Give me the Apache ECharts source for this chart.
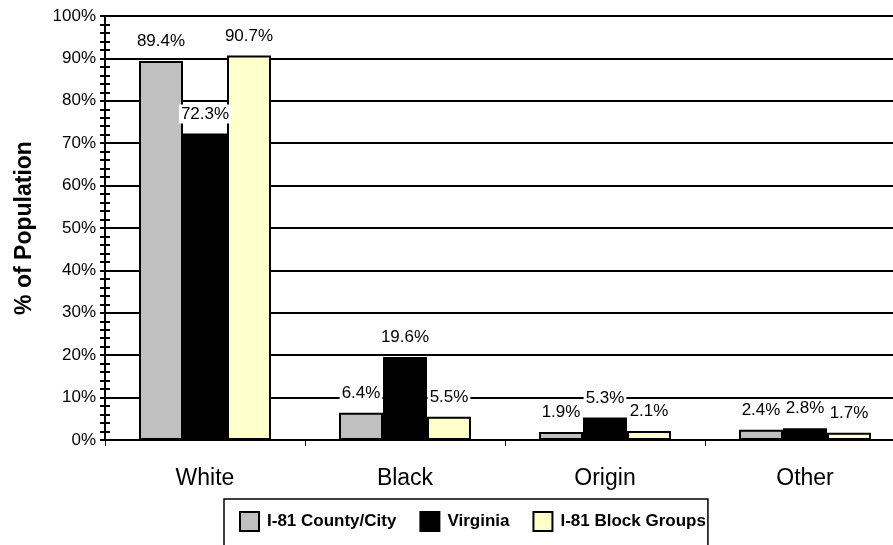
<!DOCTYPE html>
<html>
<head>
<meta charset="utf-8">
<script src="https://cdn.jsdelivr.net/npm/echarts@6/dist/echarts.min.js"></script>
<style>
  html, body { margin: 0; padding: 0; background: #fff; }
  #main { width: 893px; height: 545px; }
</style>
</head>
<body>
<div id="main"></div>
<script>
// 类别和数据
var categories = ['White', 'Black', 'Origin', 'Other'];
var seriesNames = ['I-81 County/City', 'Virginia', 'I-81 Block Groups'];
var countyCity = [89.4, 6.4, 1.9, 2.4];
var virginia = [72.3, 19.6, 5.3, 2.8];
var blockGroups = [90.7, 5.5, 2.1, 1.7];
var colors = ['#c0c0c0', '#000000', '#ffffcc'];

var chart = echarts.init(document.getElementById('main'), null, { renderer: 'canvas' });

function makeSeries(name, data, color) {
  return {
    name: name,
    type: 'bar',
    data: data,
    barGap: 0,
    barCategoryGap: '34%',
    itemStyle: { color: color, borderColor: '#000', borderWidth: 2 },
    label: {
      show: true,
      position: 'top',
      distance: 10,
      formatter: function (p) { return p.value.toFixed(1) + '%'; },
      fontFamily: 'Liberation Sans',
      fontSize: 17,
      color: '#000',
      backgroundColor: '#fff',
      padding: [1, 2]
    }
  };
}

var option = {
  animation: false,
  backgroundColor: '#fff',
  // 右边超出画布，和原图一样被裁掉
  grid: { left: 105, width: 800, top: 16, bottom: 105, outerBoundsMode: 'none' },
  legend: {
    data: seriesNames,
    left: 224,
    top: 499,
    orient: 'horizontal',
    borderColor: '#000',
    borderWidth: 1.5,
    padding: [12, 2, 30, 15],
    itemGap: 23,
    itemWidth: 19,
    itemHeight: 19,
    icon: 'rect',
    itemStyle: { borderColor: '#000', borderWidth: 2 },
    textStyle: {
      fontFamily: 'Liberation Sans',
      fontWeight: 'bold',
      fontSize: 17,
      color: '#000',
      padding: [0, 0, 0, 3]
    }
  },
  xAxis: {
    type: 'category',
    data: categories,
    axisLine: { lineStyle: { color: '#000', width: 2 } },
    axisTick: { show: true, length: 6, lineStyle: { color: '#000' } },
    axisLabel: {
      fontFamily: 'Liberation Sans',
      fontSize: 23,
      color: '#000',
      margin: 27
    }
  },
  yAxis: [
    {
      type: 'value',
      min: 0,
      max: 100,
      interval: 10,
      name: '% of Population',
      nameLocation: 'middle',
      nameGap: 69,
      nameRotate: 90,
      nameTextStyle: {
        fontFamily: 'Liberation Sans',
        fontWeight: 'bold',
        fontSize: 23,
        color: '#000'
      },
      axisLine: { show: true, lineStyle: { color: '#000', width: 2 } },
      axisTick: { show: true, length: 5, lineStyle: { color: '#000', width: 2 } },
      minorTick: { show: true, splitNumber: 5, length: 5, lineStyle: { color: '#000', width: 2 } },
      axisLabel: {
        formatter: '{value}%',
        fontFamily: 'Liberation Sans',
        fontSize: 17,
        color: '#000',
        margin: 9
      },
      splitLine: { show: true, lineStyle: { color: '#000', width: 2 } }
    },
    {
      // 第二条y轴只用来画朝内的刻度
      type: 'value',
      position: 'left',
      min: 0,
      max: 100,
      interval: 10,
      axisLine: { show: false },
      axisTick: { show: true, inside: true, length: 5, lineStyle: { color: '#000', width: 2 } },
      minorTick: { show: true, splitNumber: 5, length: 5, lineStyle: { color: '#000', width: 2 } },
      axisLabel: { show: false },
      splitLine: { show: false }
    }
  ],
  series: [
    makeSeries(seriesNames[0], countyCity, colors[0]),
    makeSeries(seriesNames[1], virginia, colors[1]),
    makeSeries(seriesNames[2], blockGroups, colors[2])
  ]
};

chart.setOption(option);
</script>
</body>
</html>
